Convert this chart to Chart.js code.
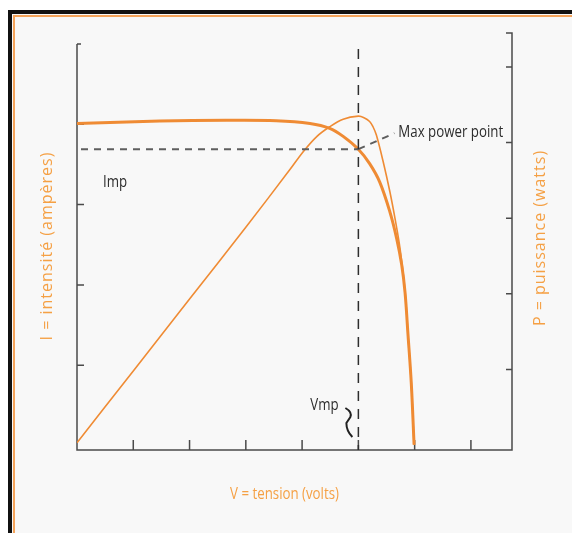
<!DOCTYPE html>
<html lang="fr">
<head>
<meta charset="utf-8">
<title>Courbe I-V et P-V d'un panneau</title>
<script src="https://cdn.jsdelivr.net/npm/chart.js@4/dist/chart.umd.min.js"></script>
<style>
    html, body { margin: 0; padding: 0; background: #ffffff; }
    #cadre {
        position: absolute;
        left: 8px;
        top: 10px;
        width: 600px;
        height: 560px;
        border-left: 4px solid #111;
        border-top: 4px solid #111;
        background: #f8f8f8;
    }
    #cadre::before {
        content: '';
        position: absolute;
        left: 1px;
        top: 1px;
        right: 0;
        bottom: 0;
        border-left: 2px solid #f4a35a;
        border-top: 2px solid #f4a35a;
    }
    #courbePanneau { position: absolute; left: 0; top: 0; }
</style>
</head>
<body>
<div id="cadre"></div>
<canvas id="courbePanneau" width="572" height="533"></canvas>
<script>
// Courbe courant-tension (I) : tension en volts, courant en ampères
const tensionI = [0, 1.47, 2.66, 3.54, 4.14, 4.49, 4.73, 5.00, 5.20, 5.38, 5.56, 5.68, 5.77, 5.83, 5.88, 5.94, 5.99];
const courantI = [4.01, 4.04, 4.05, 4.045, 4.01, 3.95, 3.85, 3.69, 3.51, 3.28, 2.91, 2.58, 2.25, 1.90, 1.40, 0.78, 0.01];

// Courbe puissance-tension (P), graduée sur l'axe de droite
const tensionP = [0, 1, 2, 3, 3.78, 4.02, 4.26, 4.49, 4.73, 5.00, 5.10, 5.20, 5.26, 5.32, 5.44, 5.56, 5.65, 5.74, 5.83, 5.88, 5.94, 5.99];
const puissanceP = [0.03, 0.98, 1.93, 2.88, 3.64, 3.88, 4.08, 4.21, 4.31, 4.35, 4.33, 4.28, 4.21, 4.10, 3.75, 3.35, 3.00, 2.60, 2.03, 1.48, 0.82, 0.00];

// Point de puissance maximale (Vmp, Imp)
const vmp = 5.0;
const imp = 3.69;

// Graduations des trois axes (sans étiquettes)
const graduationsV = [1, 2, 3, 4, 5, 6, 7];
const graduationsI = [1, 2, 3, 4, 5];
const graduationsP = [1, 2, 3, 4, 5];

// Bornes des axes
const bornesV = { min: 0, max: 7.73 };
const bornesI = { min: -0.056, max: 5.137 };
const bornesP = { min: -0.066, max: 5.45 };

const ORANGE = '#ef8b34';
const ORANGE_TEXTE = '#f5a044';
const GRIS_AXE = '#4a4a4a';
const POLICE = '"Open Sans", sans-serif';

// Texte resserré horizontalement (police étroite)
function texteEtroit(ctx, texte, x, y, align) {
    ctx.save();
    ctx.translate(x, y);
    ctx.scale(0.83, 1);
    ctx.textAlign = align;
    ctx.fillText(texte, 0, 0);
    ctx.restore();
}

// Texte vertical (titres des axes I et P)
function texteVertical(ctx, texte, x, y) {
    ctx.save();
    ctx.translate(x, y);
    ctx.rotate(-Math.PI / 2);
    ctx.textAlign = 'center';
    ctx.fillText(texte, 0, 0);
    ctx.restore();
}

// Tracé des axes avec graduations tournées vers l'intérieur
const axesPanneau = {
    id: 'axesPanneau',
    beforeDatasetsDraw(chart) {
        const { ctx, chartArea: zone, scales } = chart;
        const sx = scales.x, sy = scales.y, sp = scales.yP;
        ctx.save();
        ctx.strokeStyle = GRIS_AXE;
        ctx.lineWidth = 1.5;

        // axe gauche : commence à la dernière graduation
        const hautI = sy.getPixelForValue(graduationsI[graduationsI.length - 1]);
        ctx.beginPath();
        ctx.moveTo(zone.left, hautI);
        ctx.lineTo(zone.left, zone.bottom);
        ctx.lineTo(zone.right, zone.bottom);
        ctx.lineTo(zone.right, zone.top);
        ctx.lineTo(zone.right - 6, zone.top);
        ctx.stroke();

        ctx.beginPath();
        graduationsI.forEach((v, i) => {
            const y = sy.getPixelForValue(v);
            const long = i === graduationsI.length - 1 ? 4 : 7;
            ctx.moveTo(zone.left, y);
            ctx.lineTo(zone.left + long, y);
        });
        graduationsV.forEach(v => {
            const x = sx.getPixelForValue(v);
            ctx.moveTo(x, zone.bottom);
            ctx.lineTo(x, zone.bottom - 10);
        });
        graduationsP.forEach(v => {
            const y = sp.getPixelForValue(v);
            ctx.moveTo(zone.right, y);
            ctx.lineTo(zone.right - 6, y);
        });
        ctx.stroke();
        ctx.restore();
    },
    afterDatasetsDraw(chart) {
        const { ctx, chartArea: zone, scales } = chart;
        const sx = scales.x, sy = scales.y;
        const xMp = sx.getPixelForValue(vmp);
        const yMp = sy.getPixelForValue(imp);
        ctx.save();

        // pointillés horizontaux (Imp)
        ctx.strokeStyle = '#5e5e5e';
        ctx.lineWidth = 2;
        ctx.setLineDash([7, 6]);
        ctx.beginPath();
        ctx.moveTo(zone.left + 4, yMp);
        ctx.lineTo(xMp, yMp);
        // liaison vers l'étiquette du point max
        ctx.moveTo(xMp, yMp);
        ctx.lineTo(xMp + 36, yMp - 16);
        ctx.stroke();

        // pointillés verticaux (Vmp)
        ctx.strokeStyle = '#2e2e2e';
        ctx.lineWidth = 1.5;
        ctx.setLineDash([10, 8]);
        ctx.beginPath();
        ctx.moveTo(xMp, zone.top + 16);
        ctx.lineTo(xMp, zone.bottom);
        ctx.stroke();
        ctx.setLineDash([]);

        // petit trait en zigzag à côté de Vmp
        ctx.lineWidth = 2;
        ctx.strokeStyle = '#222';
        ctx.beginPath();
        ctx.moveTo(xMp - 13, zone.bottom - 42);
        ctx.quadraticCurveTo(xMp - 6, zone.bottom - 38, xMp - 8, zone.bottom - 33);
        ctx.lineTo(xMp - 12, zone.bottom - 27);
        ctx.quadraticCurveTo(xMp - 12, zone.bottom - 19, xMp - 6, zone.bottom - 13);
        ctx.stroke();

        // annotations
        ctx.fillStyle = '#2c2c2c';
        ctx.font = '16px ' + POLICE;
        ctx.textBaseline = 'middle';
        texteEtroit(ctx, 'Max power point', xMp + 40, yMp - 17, 'left');
        texteEtroit(ctx, 'Imp', zone.left + 26, yMp + 33, 'left');
        texteEtroit(ctx, 'Vmp', xMp - 48, zone.bottom - 45, 'left');

        // titres des axes
        ctx.fillStyle = ORANGE_TEXTE;
        texteEtroit(ctx, 'V = tension (volts)', (zone.left + zone.right) / 2 - 10, zone.bottom + 44, 'center');

        ctx.font = '16px ' + POLICE;
        ctx.letterSpacing = '1px';
        texteVertical(ctx, 'I = intensité (ampères)', zone.left - 30, 246);
        texteVertical(ctx, 'P = puissance (watts)', zone.right + 28, 238);

        ctx.restore();
    }
};

function creerCourbe() {
    const ctx = document.getElementById('courbePanneau').getContext('2d');
    return new Chart(ctx, {
        type: 'line',
        data: {
            datasets: [
                {
                    label: 'P',
                    data: tensionP.map((v, i) => ({ x: v, y: puissanceP[i] })),
                    yAxisID: 'yP',
                    borderColor: ORANGE,
                    borderWidth: 1.6,
                    pointRadius: 0,
                    tension: 0.35,
                    fill: false
                },
                {
                    label: 'I',
                    data: tensionI.map((v, i) => ({ x: v, y: courantI[i] })),
                    yAxisID: 'y',
                    borderColor: ORANGE,
                    borderWidth: 3,
                    pointRadius: 0,
                    tension: 0.35,
                    fill: false
                }
            ]
        },
        options: {
            responsive: false,
            animation: false,
            layout: {
                padding: { left: 77, right: 60, top: 33, bottom: 83 }
            },
            plugins: {
                legend: { display: false },
                tooltip: { enabled: false }
            },
            scales: {
                x: { type: 'linear', display: false, min: bornesV.min, max: bornesV.max },
                y: { type: 'linear', display: false, min: bornesI.min, max: bornesI.max },
                yP: { type: 'linear', display: false, position: 'right', min: bornesP.min, max: bornesP.max }
            }
        },
        plugins: [axesPanneau]
    });
}

document.addEventListener('DOMContentLoaded', () => {
    creerCourbe();
});
</script>
</body>
</html>
